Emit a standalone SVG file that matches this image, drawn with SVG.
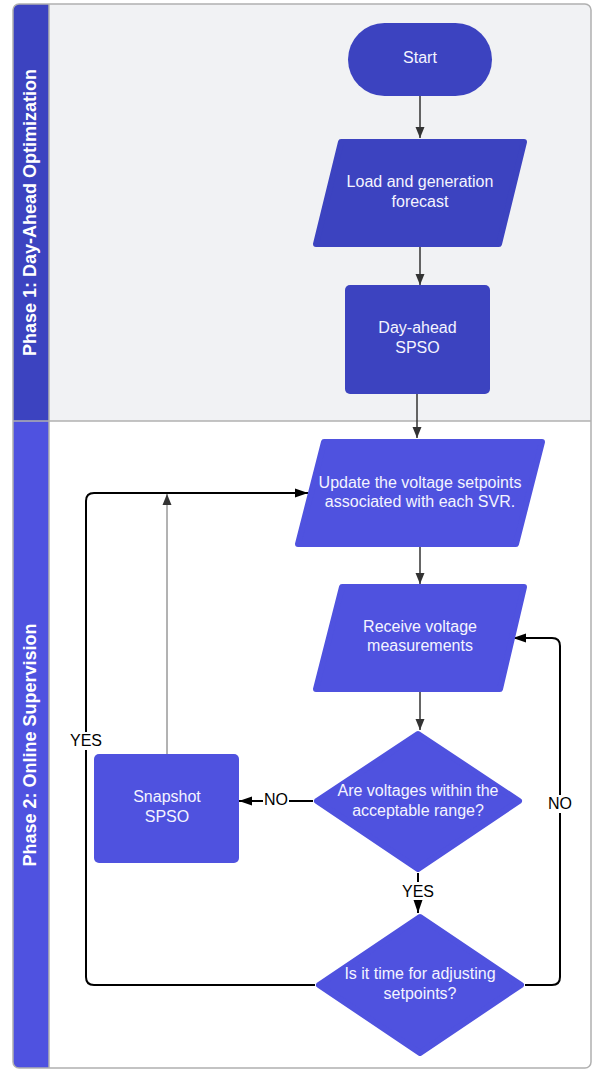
<svg xmlns="http://www.w3.org/2000/svg" width="593" height="1070" viewBox="0 0 593 1070">
<style>
.p1{fill:#3c43c0;stroke:#3c43c0;stroke-width:6;stroke-linejoin:round}
.p2{fill:#4f52df;stroke:#4f52df;stroke-width:6;stroke-linejoin:round}
.r1{fill:#3c43c0}
.r2{fill:#4f52df}
.t{font-family:"Liberation Sans",Arial,sans-serif;font-size:16px;fill:#f4f4ff;text-anchor:middle}
.lb{font-family:"Liberation Sans",Arial,sans-serif;font-size:16px;fill:#000;text-anchor:middle}
.hd{font-family:"Liberation Sans",Arial,sans-serif;font-size:18px;font-weight:bold;fill:#fff;text-anchor:middle}
.g{fill:none;stroke:#333;stroke-width:1.5}
.gt{fill:none;stroke:#666;stroke-width:1}
.k{fill:none;stroke:#000;stroke-width:2}
</style>
<defs>
<marker id="ag" markerUnits="userSpaceOnUse" markerWidth="12" markerHeight="12" viewBox="0 0 12 12" refX="11" refY="6" orient="auto"><path d="M0,1.5 L11,6 L0,10.5 Z" fill="#333"/></marker>
<marker id="ak" markerUnits="userSpaceOnUse" markerWidth="14" markerHeight="12" viewBox="0 0 14 12" refX="13" refY="6" orient="auto"><path d="M0,1.5 L13,6 L0,10.5 Z" fill="#000"/></marker>
</defs>
<g id="lanes">
<rect x="13" y="4" width="578" height="1064" rx="6" fill="#fff"/>
<path d="M19,4 H585 A6,6 0 0 1 591,10 V421 H13 V10 A6,6 0 0 1 19,4 Z" fill="#f1f2f4"/>
<path d="M19,4 H49 V421 H13 V10 A6,6 0 0 1 19,4 Z" fill="#3c43c0"/>
<path d="M13,421 H49 V1068 H19 A6,6 0 0 1 13,1062 Z" fill="#4f52e0"/>
<line x1="49" y1="4" x2="49" y2="1068" stroke="#b0b0b0" stroke-width="1.5"/>
<line x1="13" y1="421" x2="591" y2="421" stroke="#b0b0b0" stroke-width="1.5"/>
<rect x="13" y="4" width="578" height="1064" rx="6" fill="none" stroke="#b0b0b0" stroke-width="1.5"/>
<text class="hd" transform="translate(36,212.5) rotate(-90)">Phase 1: Day-Ahead Optimization</text>
<text class="hd" transform="translate(36,745) rotate(-90)">Phase 2: Online Supervision</text>
</g>
<g id="connectors">
<line class="g" x1="420" y1="96" x2="420" y2="138" marker-end="url(#ag)"/>
<line class="g" x1="420" y1="247" x2="420" y2="285" marker-end="url(#ag)"/>
<line class="g" x1="417" y1="394" x2="417" y2="438" marker-end="url(#ag)"/>
<line class="g" x1="420" y1="547" x2="420" y2="584" marker-end="url(#ag)"/>
<line class="g" x1="420" y1="692" x2="420" y2="730" marker-end="url(#ag)"/>
<line class="gt" x1="167" y1="754" x2="167" y2="494" marker-end="url(#ag)"/>
<line class="k" x1="313" y1="801" x2="239" y2="801" marker-end="url(#ak)"/>
<line class="k" x1="418" y1="873" x2="418" y2="913" marker-end="url(#ak)"/>
<path class="k" d="M525,985 H552 Q560,985 560,977 V646 Q560,638 552,638 H513" marker-end="url(#ak)"/>
<path class="k" d="M315,985 H94 Q86,985 86,977 V501 Q86,493 94,493 H308" marker-end="url(#ak)"/>
<rect x="263" y="792" width="26" height="18" fill="#fff"/>
<text class="lb" x="276" y="805">NO</text>
<rect x="401" y="882" width="34" height="18" fill="#fff"/>
<text class="lb" x="418" y="897">YES</text>
<rect x="547" y="795" width="26" height="18" fill="#fff"/>
<text class="lb" x="560" y="809">NO</text>
<rect x="69" y="732" width="34" height="18" fill="#fff"/>
<text class="lb" x="86" y="746">YES</text>
</g>
<g id="start">
<rect class="r1" x="348" y="23" width="144" height="73" rx="36.5"/>
<text class="t" x="420" y="63">Start</text>
</g>
<g id="forecast">
<polygon class="p1" points="341,142 524,142 499,244 316,244"/>
<text class="t" x="420" y="187">Load and generation</text>
<text class="t" x="420" y="206.5">forecast</text>
</g>
<g id="dayahead">
<rect class="r1" x="345" y="285" width="145" height="109" rx="5"/>
<text class="t" x="417.5" y="333">Day-ahead</text>
<text class="t" x="417.5" y="352.5">SPSO</text>
</g>
<g id="update">
<polygon class="p2" points="324,442 542,442 516,544 298,544"/>
<text class="t" x="420" y="487.5">Update the voltage setpoints</text>
<text class="t" x="420" y="507">associated with each SVR.</text>
</g>
<g id="receive">
<polygon class="p2" points="342,587 524,587 500,689 316,689"/>
<text class="t" x="420" y="632">Receive voltage</text>
<text class="t" x="420" y="651">measurements</text>
</g>
<g id="check">
<polygon class="p2" points="418,734 519,801 418,869 317,801"/>
<text class="t" x="418" y="796">Are voltages within the</text>
<text class="t" x="418" y="815.5">acceptable range?</text>
</g>
<g id="snapshot">
<rect class="r2" x="94" y="754" width="145" height="109" rx="5"/>
<text class="t" x="167" y="802">Snapshot</text>
<text class="t" x="167" y="821.5">SPSO</text>
</g>
<g id="timecheck">
<polygon class="p2" points="420,917 521,985 420,1053 319,985"/>
<text class="t" x="420" y="979">Is it time for adjusting</text>
<text class="t" x="420" y="998.5">setpoints?</text>
</g>
</svg>
